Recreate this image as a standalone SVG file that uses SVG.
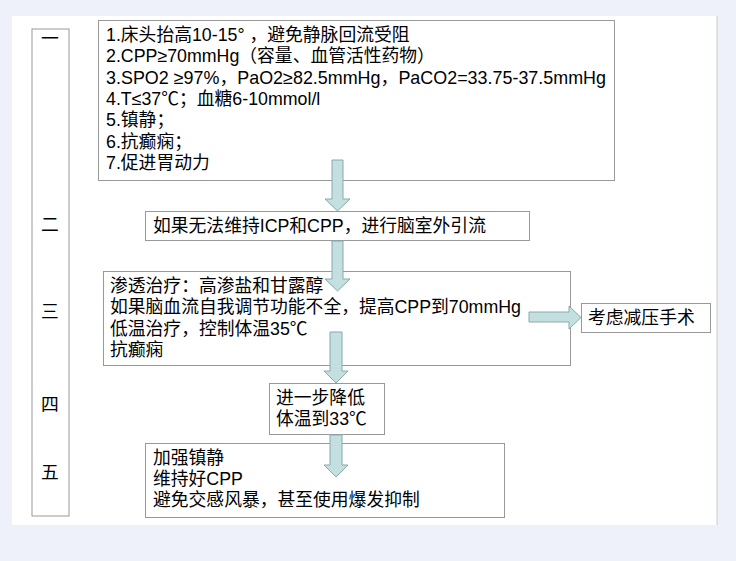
<svg xmlns="http://www.w3.org/2000/svg" width="736" height="561" viewBox="0 0 736 561">
<style>
.b{fill:#fff;stroke:#999;stroke-width:1}
.t{font-family:"Liberation Sans","Noto Sans CJK SC",sans-serif;font-size:17.8px;fill:#000;dominant-baseline:central}
.a{fill:#c3dfe0;stroke:#8aa;stroke-width:1}
</style>
<rect width="736" height="561" fill="#eef1fa"/>
<rect x="12" y="16" width="705" height="509" fill="#fff"/>
<line x1="717" y1="16" x2="717" y2="525" stroke="#ccc"/>
<g id="stages">
<rect class="b" x="32" y="29" width="37" height="487"/>
<text class="t" x="50" y="39" text-anchor="middle">一</text>
<text class="t" x="50" y="225" text-anchor="middle">二</text>
<text class="t" x="50" y="312" text-anchor="middle">三</text>
<text class="t" x="50" y="405" text-anchor="middle">四</text>
<text class="t" x="50" y="473" text-anchor="middle">五</text>
</g>
<g id="n1">
<rect class="b" x="98.5" y="20.5" width="516" height="160"/>
<text class="t" x="106" y="35">1.床头抬高10-15° ，避免静脉回流受阻</text>
<text class="t" x="106" y="56">2.CPP≥70mmHg（容量、血管活性药物）</text>
<text class="t" x="106" y="78" textLength="500" lengthAdjust="spacingAndGlyphs">3.SPO2 ≥97%，PaO2≥82.5mmHg，PaCO2=33.75-37.5mmHg</text>
<text class="t" x="106" y="99">4.T≤37℃；血糖6-10mmol/l</text>
<text class="t" x="106" y="120">5.镇静；</text>
<text class="t" x="106" y="142">6.抗癫痫；</text>
<text class="t" x="106" y="163">7.促进胃动力</text>
</g>
<g id="n2">
<rect class="b" x="145.5" y="211.5" width="384" height="29"/>
<text class="t" x="153" y="226">如果无法维持ICP和CPP，进行脑室外引流</text>
</g>
<g id="n3">
<rect class="b" x="103.5" y="271.5" width="467" height="94"/>
<text class="t" x="110" y="286">渗透治疗：高渗盐和甘露醇</text>
<text class="t" x="110" y="307">如果脑血流自我调节功能不全，提高CPP到70mmHg</text>
<text class="t" x="110" y="329">低温治疗，控制体温35℃</text>
<text class="t" x="110" y="350">抗癫痫</text>
</g>
<g id="n3b">
<rect class="b" x="581.5" y="303.5" width="129" height="29"/>
<text class="t" x="588" y="318">考虑减压手术</text>
</g>
<g id="n4">
<rect class="b" x="269.5" y="383.5" width="115" height="51"/>
<text class="t" x="276" y="398">进一步降低</text>
<text class="t" x="276" y="419">体温到33℃</text>
</g>
<g id="n5">
<rect class="b" x="145.5" y="443.5" width="359" height="74"/>
<text class="t" x="153" y="458">加强镇静</text>
<text class="t" x="153" y="479">维持好CPP</text>
<text class="t" x="153" y="500">避免交感风暴，甚至使用爆发抑制</text>
</g>
<g id="connectors">
<path class="a" d="M332,160H343V199H350L337.5,211L325,199H332Z"/>
<path class="a" d="M332,241H343V279H350L337.5,291L325,279H332Z"/>
<path class="a" d="M330,332H342V371H348L336,383L324,371H330Z"/>
<path class="a" d="M330,435H342V465H348L336,477L324,465H330Z"/>
<path class="a" d="M529,312H569V306L581,317.5L569,329V322H529Z"/>
</g>
</svg>
